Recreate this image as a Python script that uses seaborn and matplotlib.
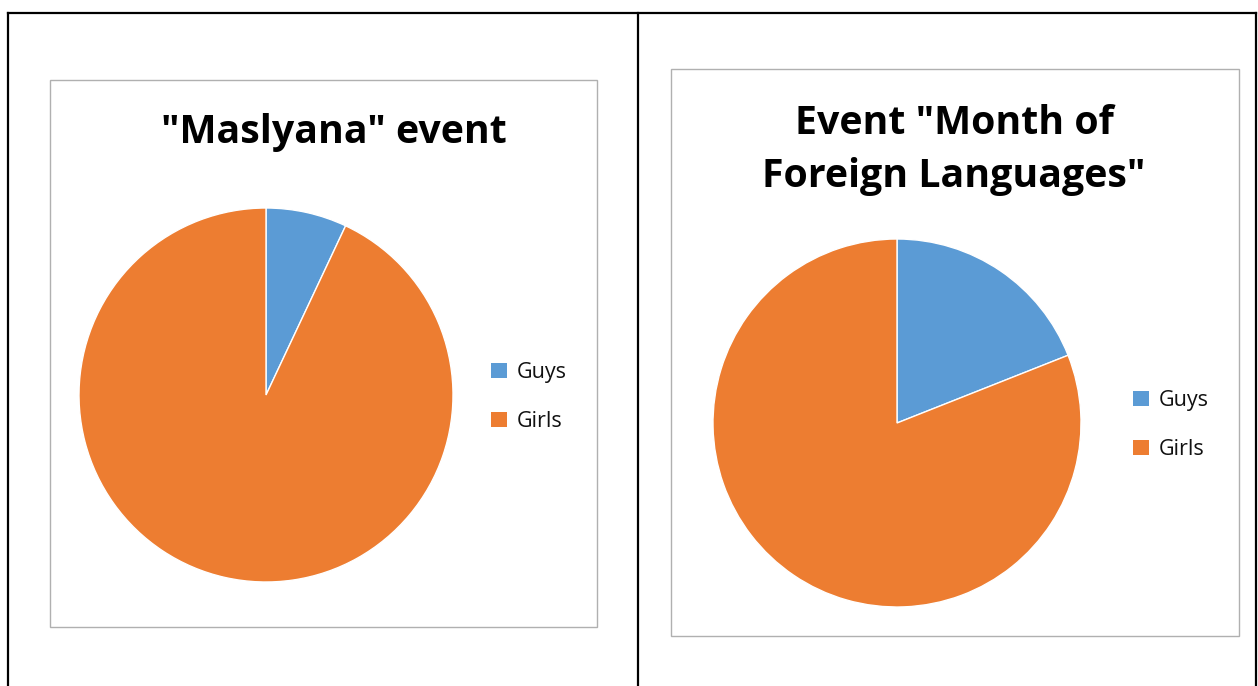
import matplotlib
matplotlib.use("Agg")
import matplotlib.pyplot as plt
from matplotlib.lines import Line2D
from matplotlib.patches import Rectangle, Patch
import seaborn as sns

# ---- data ----
categories = ["Guys", "Girls"]
maslyana_values = [7, 93]
languages_values = [19, 81]
titles = ['"Maslyana" event', 'Event "Month of\nForeign Languages"']
colors = ["#5B9BD5", "#ED7D31"]

sns.set_theme(style="white")
plt.rcParams['font.family'] = ['Open Sans', 'DejaVu Sans']

W, H = 1258, 686
fig = plt.figure(figsize=(W / 100, H / 100), dpi=100)
fig.patch.set_facecolor("white")


def fx(x):
    return x / W


def fy(y):
    return 1 - y / H


# outer table lines
for (x0, y0, x1, y1) in [(8, 13, 1256, 13), (8, 13, 8, 686), (638, 13, 638, 686), (1256, 13, 1256, 686)]:
    fig.add_artist(Line2D([fx(x0), fx(x1)], [fy(y0), fy(y1)], color="black", lw=1.6,
                          transform=fig.transFigure, solid_capstyle="projecting"))

# chart boxes
boxes = [(50, 80, 597, 627), (671, 69, 1239, 636)]
for (x0, y0, x1, y1) in boxes:
    fig.add_artist(Rectangle((fx(x0), fy(y1)), fx(x1 - x0), (y1 - y0) / H, fill=False,
                             edgecolor="#B0B0B0", lw=1.0, transform=fig.transFigure))

pies = [
    dict(values=maslyana_values, center=(266, 395), r=187, title_xy=(334, 133), legend_xy=(491, 397)),
    dict(values=languages_values, center=(897, 423), r=184, title_xy=(954, 150), legend_xy=(1133, 425)),
]

for i, p in enumerate(pies):
    cx, cy = p["center"]
    r = p["r"]
    ax = fig.add_axes([fx(cx - r), fy(cy + r), 2 * r / W, 2 * r / H])
    ax.pie(p["values"], colors=colors, startangle=90, counterclock=False,
           wedgeprops=dict(edgecolor="white", linewidth=1.0))
    ax.set_xlim(-1, 1)
    ax.set_ylim(-1, 1)
    ax.set_aspect("equal")
    ax.axis("off")
    tx, ty = p["title_xy"]
    fig.text(fx(tx), fy(ty), titles[i], ha="center", va="center", fontsize=28.3,
             fontweight="bold", color="black", linespacing=1.45)
    handles = [Patch(facecolor=c, edgecolor="none") for c in colors]
    lx, ly = p["legend_xy"]
    fig.legend(handles, categories, loc="center left", bbox_to_anchor=(fx(lx), fy(ly)),
               frameon=False, fontsize=15.5, handlelength=0.75, handleheight=0.75,
               handletextpad=0.45, labelspacing=1.3, borderpad=0, borderaxespad=0,
               labelcolor="#111111")

fig.savefig("out.png", dpi=100, facecolor="white")
